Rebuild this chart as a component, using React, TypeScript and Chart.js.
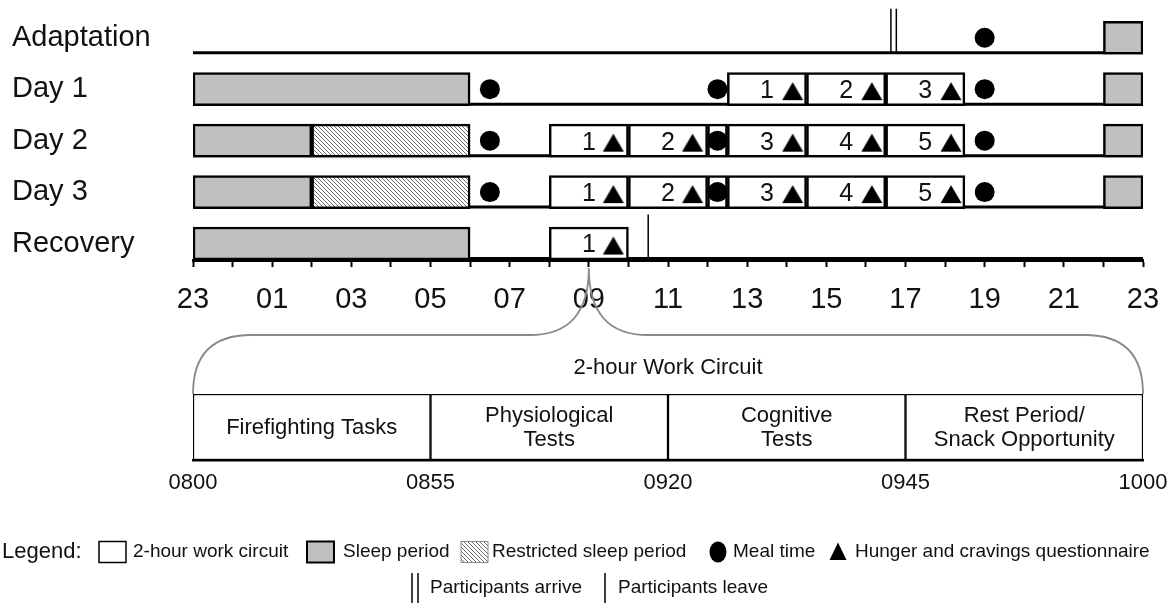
import React, { useEffect, useRef } from 'react';
import { Chart, registerables } from 'chart.js';

Chart.register(...registerables);

const FONT = '"Liberation Sans", Arial, Helvetica, sans-serif';
const INK = '#111111';
const SLEEP_GRAY = '#c0c0c0';

// ---------- schedule data ----------
const rowLabels = ['Adaptation', 'Day 1', 'Day 2', 'Day 3', 'Recovery'];

const axisStartHour = 23;
const xTickLabels = ['23', '01', '03', '05', '07', '09', '11', '13', '15', '17', '19', '21', '23'];

// [row, start clock hour, end clock hour]
const sleepPeriods: number[][] = [
  [0, 22, 23],
  [1, 23, 6], [1, 22, 23],
  [2, 23, 2], [2, 22, 23],
  [3, 23, 2], [3, 22, 23],
  [4, 23, 6],
];
const restrictedSleep: number[][] = [[2, 2, 6], [3, 2, 6]];
// [row, start, end, circuit number]
const workCircuits: number[][] = [
  [1, 12.5, 14.5, 1], [1, 14.5, 16.5, 2], [1, 16.5, 18.5, 3],
  [2, 8, 10, 1], [2, 10, 12, 2], [2, 12.5, 14.5, 3], [2, 14.5, 16.5, 4], [2, 16.5, 18.5, 5],
  [3, 8, 10, 1], [3, 10, 12, 2], [3, 12.5, 14.5, 3], [3, 14.5, 16.5, 4], [3, 16.5, 18.5, 5],
  [4, 8, 10, 1],
];
const lunchBreaks: number[][] = [[2, 12, 12.5], [3, 12, 12.5]];
// [row, clock hour]
const mealTimes: number[][] = [
  [0, 19],
  [1, 6.5], [1, 12.25], [1, 19],
  [2, 6.5], [2, 12.25], [2, 19],
  [3, 6.5], [3, 12.25], [3, 19],
];
const questionnaireTimes: number[][] = [
  [1, 14.15], [1, 16.15], [1, 18.15],
  [2, 9.62], [2, 11.62], [2, 14.15], [2, 16.15], [2, 18.15],
  [3, 9.62], [3, 11.62], [3, 14.15], [3, 16.15], [3, 18.15],
  [4, 9.62],
];
const arrivals: number[][] = [[0, 16.7]];
const departures: number[][] = [[4, 10.5]];

// ---------- 2-hour work circuit detail ----------
const circuitSegments = ['Firefighting Tasks', 'Physiological\nTests', 'Cognitive\nTests', 'Rest Period/\nSnack Opportunity'];
const circuitShares = [1, 1, 1, 1];
const circuitTimes = ['0800', '0855', '0920', '0945', '1000'];
const circuitTitle = '2-hour Work Circuit';
const circuitZoomHour = 9;

const legendTitle = 'Legend:';
const legendItems = [
  '2-hour work circuit', 'Sleep period', 'Restricted sleep period', 'Meal time',
  'Hunger and cravings questionnaire', 'Participants arrive', 'Participants leave',
];

// ---------- helpers ----------
const toAxis = (h: number) => (h >= axisStartHour ? h : h + 24);
const span = (s: number, e: number): [number, number] => {
  const a = toAxis(s);
  let b = toAxis(e);
  if (b <= a) b += 24;
  return [a, b];
};

const BAR_THICKNESS = 33;
const CANVAS2_TOP = 250;

function makeHatch(): CanvasPattern | string {
  const c = document.createElement('canvas');
  c.width = 4;
  c.height = 4;
  const g = c.getContext('2d');
  if (!g) return '#ddd';
  g.fillStyle = '#ffffff';
  g.fillRect(0, 0, 4, 4);
  g.strokeStyle = '#707070';
  g.lineWidth = 1;
  g.beginPath();
  for (const k of [-4, 0, 4]) {
    g.moveTo(k, 0);
    g.lineTo(k + 4, 4);
  }
  g.stroke();
  return g.createPattern(c, 'repeat') || '#ddd';
}

function makeTriangle(): HTMLCanvasElement {
  const c = document.createElement('canvas');
  c.width = 24;
  c.height = 30;
  const g = c.getContext('2d');
  if (g) {
    g.fillStyle = '#000';
    g.beginPath();
    g.moveTo(12, 8);
    g.lineTo(22.5, 26);
    g.lineTo(1.5, 26);
    g.closePath();
    g.fill();
  }
  return c;
}

export default function App() {
  const topRef = useRef<HTMLCanvasElement | null>(null);
  const bottomRef = useRef<HTMLCanvasElement | null>(null);

  useEffect(() => {
    if (!topRef.current || !bottomRef.current) return;
    const hatch = makeHatch();
    const tri = makeTriangle();
    const WORK_INDEX = 2;

    const barBase = {
      type: 'bar' as const,
      grouped: false,
      barThickness: BAR_THICKNESS,
      borderColor: '#000',
      borderWidth: 2.5,
      borderSkipped: false as const,
    };

    const scheduleDecor = {
      id: 'scheduleDecor',
      beforeDatasetsDraw(chart: any) {
        const { ctx, chartArea, scales } = chart;
        const y = scales.y;
        ctx.save();
        ctx.strokeStyle = '#000';
        ctx.lineWidth = 3;
        rowLabels.forEach((_, i) => {
          const yy = y.getPixelForValue(i) + BAR_THICKNESS / 2 - 1.5;
          ctx.beginPath();
          ctx.moveTo(chartArea.left, yy);
          ctx.lineTo(chartArea.right, yy);
          ctx.stroke();
        });
        ctx.restore();
      },
      afterDatasetsDraw(chart: any) {
        const { ctx, scales } = chart;
        const { x, y } = scales;
        ctx.save();
        const meta = chart.getDatasetMeta(WORK_INDEX);
        ctx.fillStyle = INK;
        ctx.font = `25px ${FONT}`;
        ctx.textAlign = 'center';
        ctx.textBaseline = 'middle';
        meta.data.forEach((el: any, i: number) => {
          const p = el.getProps(['x', 'base', 'y'], true);
          ctx.fillText(String(workCircuits[i][3]), (p.x + p.base) / 2, p.y + 2);
        });
        ctx.strokeStyle = '#000';
        ctx.lineWidth = 1.5;
        const top = (r: number) => y.getPixelForValue(r) - 29;
        const bottom = (r: number) => y.getPixelForValue(r) + BAR_THICKNESS / 2 - 1.5;
        arrivals.forEach(([r, h]) => {
          const px = x.getPixelForValue(toAxis(h));
          [-2.7, 2.7].forEach((d) => {
            ctx.beginPath();
            ctx.moveTo(px + d, top(r));
            ctx.lineTo(px + d, bottom(r));
            ctx.stroke();
          });
        });
        departures.forEach(([r, h]) => {
          const px = x.getPixelForValue(toAxis(h));
          ctx.beginPath();
          ctx.moveTo(px, top(r));
          ctx.lineTo(px, bottom(r));
          ctx.stroke();
        });
        ctx.restore();
      },
    };

    const topChart = new Chart(topRef.current, {
      type: 'bar',
      data: {
        datasets: [
          {
            type: 'scatter',
            label: 'Meal time',
            data: mealTimes.map(([r, h]) => ({ x: toAxis(h), y: r })),
            pointStyle: 'circle',
            pointRadius: 10,
            backgroundColor: '#000',
            pointBackgroundColor: '#000',
            borderWidth: 0,
            pointBorderWidth: 0,
          } as any,
          {
            type: 'scatter',
            label: 'Hunger and cravings questionnaire',
            data: questionnaireTimes.map(([r, h]) => ({ x: toAxis(h), y: r })),
            pointStyle: tri,
            pointRadius: 12,
            backgroundColor: '#000',
            borderWidth: 0,
          } as any,
          {
            ...barBase,
            label: '2-hour work circuit',
            data: workCircuits.map(([r, s, e]) => ({ y: r, x: span(s, e) })),
            backgroundColor: '#ffffff',
          } as any,
          {
            ...barBase,
            label: 'Lunch',
            data: lunchBreaks.map(([r, s, e]) => ({ y: r, x: span(s, e) })),
            backgroundColor: '#ffffff',
          } as any,
          {
            ...barBase,
            label: 'Restricted sleep period',
            data: restrictedSleep.map(([r, s, e]) => ({ y: r, x: span(s, e) })),
            backgroundColor: hatch,
          } as any,
          {
            ...barBase,
            label: 'Sleep period',
            data: sleepPeriods.map(([r, s, e]) => ({ y: r, x: span(s, e) })),
            backgroundColor: SLEEP_GRAY,
          } as any,
        ],
      },
      options: {
        responsive: false,
        animation: false,
        devicePixelRatio: 1,
        indexAxis: 'y',
        events: [],
        layout: { padding: { left: 12, right: 30, top: 11.2, bottom: 5 } },
        plugins: { legend: { display: false }, tooltip: { enabled: false } },
        scales: {
          x: {
            type: 'linear',
            position: 'bottom',
            min: axisStartHour,
            max: axisStartHour + 24,
            offset: false,
            ticks: {
              stepSize: 1,
              autoSkip: false,
              maxRotation: 0,
              padding: 12,
              color: INK,
              font: { family: FONT, size: 29, lineHeight: 1.42 },
              callback: (v: any) => {
                const k = Math.round(Number(v) - axisStartHour);
                return k % 2 === 0 ? xTickLabels[k / 2] : '';
              },
            },
            grid: {
              display: true,
              drawOnChartArea: false,
              drawTicks: true,
              tickLength: 7,
              tickColor: '#000',
              tickWidth: 2,
              offset: false,
            },
            border: { display: true, color: '#000', width: 3 },
            afterFit: (s: any) => {
              s.height = 55;
            },
          },
          y: {
            type: 'linear',
            position: 'left',
            reverse: true,
            min: -0.5,
            max: 4.32,
            offset: false,
            afterBuildTicks: (s: any) => {
              s.ticks = rowLabels.map((_, i) => ({ value: i }));
            },
            afterFit: (s: any) => {
              s.width = 181;
            },
            ticks: {
              crossAlign: 'far',
              padding: 0,
              color: INK,
              font: { family: FONT, size: 29, lineHeight: 0.7 },
              callback: (v: any) => rowLabels[Math.round(Number(v))] ?? '',
            },
            grid: { display: false },
            border: { display: false },
          },
        },
      } as any,
      plugins: [scheduleDecor],
    });

    const circuitDecor = {
      id: 'circuitDecor',
      afterDatasetsDraw(chart: any) {
        const { ctx } = chart;
        ctx.save();
        ctx.fillStyle = INK;
        ctx.font = `22px ${FONT}`;
        ctx.textAlign = 'center';
        ctx.textBaseline = 'middle';
        circuitSegments.forEach((label, i) => {
          const el = chart.getDatasetMeta(i).data[0];
          if (!el) return;
          const p = el.getProps(['x', 'base', 'y'], true);
          const cx = (p.x + p.base) / 2;
          const lines = label.split('\n');
          const lh = 24;
          lines.forEach((ln, j) => {
            ctx.fillText(ln, cx, p.y + 1 + (j - (lines.length - 1) / 2) * lh);
          });
        });
        ctx.restore();
      },
      afterDraw(chart: any) {
        const { ctx, chartArea: ca } = chart;
        ctx.save();
        // bracket linking the 09:00 circuit to the detail box
        const apexX = topChart.scales.x.getPixelForValue(toAxis(circuitZoomHour));
        const apexY = topChart.chartArea.bottom + 8 - CANVAS2_TOP;
        const hy = 335 - CANVAS2_TOP;
        ctx.strokeStyle = '#8a8a8a';
        ctx.lineWidth = 1.8;
        ctx.beginPath();
        ctx.moveTo(apexX, apexY);
        ctx.quadraticCurveTo(apexX, hy, apexX - 59, hy);
        ctx.lineTo(ca.left + 58, hy);
        ctx.quadraticCurveTo(ca.left, hy, ca.left, ca.top);
        ctx.moveTo(apexX, apexY);
        ctx.quadraticCurveTo(apexX, hy, apexX + 59, hy);
        ctx.lineTo(ca.right - 58, hy);
        ctx.quadraticCurveTo(ca.right, hy, ca.right, ca.top);
        ctx.stroke();

        // title
        ctx.fillStyle = INK;
        ctx.textAlign = 'center';
        ctx.textBaseline = 'middle';
        ctx.font = `22px ${FONT}`;
        ctx.fillText(circuitTitle, (ca.left + ca.right) / 2, 368 - CANVAS2_TOP);

        // legend
        const r1 = 552 - CANVAS2_TOP;
        const r2 = 588 - CANVAS2_TOP;
        ctx.textAlign = 'left';
        ctx.font = `22px ${FONT}`;
        ctx.fillText(legendTitle, 2, r1);
        ctx.font = `19px ${FONT}`;
        const box = (x: number, fill: any, stroke: string, lw: number) => {
          ctx.fillStyle = fill;
          ctx.fillRect(x, r1 - 10.5, 27, 21);
          ctx.strokeStyle = stroke;
          ctx.lineWidth = lw;
          ctx.strokeRect(x, r1 - 10.5, 27, 21);
        };
        box(99, '#ffffff', '#000', 1.5);
        box(307, SLEEP_GRAY, '#000', 2);
        box(461, hatch, '#8a8a8a', 1);
        ctx.fillStyle = '#000';
        ctx.beginPath();
        ctx.ellipse(718, r1, 8.5, 10.5, 0, 0, Math.PI * 2);
        ctx.fill();
        ctx.beginPath();
        ctx.moveTo(838, r1 - 9.5);
        ctx.lineTo(846.5, r1 + 8);
        ctx.lineTo(829.5, r1 + 8);
        ctx.closePath();
        ctx.fill();
        ctx.fillStyle = INK;
        ctx.fillText(legendItems[0], 133, r1);
        ctx.fillText(legendItems[1], 343, r1);
        ctx.fillText(legendItems[2], 492, r1);
        ctx.fillText(legendItems[3], 733, r1);
        ctx.fillText(legendItems[4], 855, r1);
        ctx.strokeStyle = '#000';
        ctx.lineWidth = 1.5;
        [412, 418, 605].forEach((lx) => {
          ctx.beginPath();
          ctx.moveTo(lx, r2 - 15);
          ctx.lineTo(lx, r2 + 15);
          ctx.stroke();
        });
        ctx.fillText(legendItems[5], 430, r2);
        ctx.fillText(legendItems[6], 618, r2);
        ctx.restore();
      },
    };

    const bottomChart = new Chart(bottomRef.current, {
      type: 'bar',
      data: {
        labels: ['circuit'],
        datasets: circuitSegments.map((s, i) => ({
          label: s,
          data: [circuitShares[i]],
          backgroundColor: '#ffffff',
          borderColor: '#000',
          borderWidth: 1.5,
          borderSkipped: false,
          barPercentage: 1,
          categoryPercentage: 1,
        })) as any,
      },
      options: {
        responsive: false,
        animation: false,
        devicePixelRatio: 1,
        indexAxis: 'y',
        events: [],
        layout: { padding: { left: 193, right: 30, top: 144, bottom: 103 } },
        plugins: { legend: { display: false }, tooltip: { enabled: false } },
        scales: {
          x: {
            type: 'linear',
            stacked: true,
            min: 0,
            max: circuitShares.reduce((a, b) => a + b, 0),
            offset: false,
            ticks: {
              stepSize: 1,
              autoSkip: false,
              maxRotation: 0,
              padding: 4,
              color: INK,
              font: { family: FONT, size: 22, lineHeight: 1.75 },
              callback: (v: any) => circuitTimes[Math.round(Number(v))] ?? '',
            },
            grid: { display: false, drawTicks: false },
            border: { display: true, color: '#000', width: 2.5 },
            afterFit: (s: any) => {
              s.height = 40;
            },
          },
          y: { type: 'category', stacked: true, display: false },
        },
      } as any,
      plugins: [circuitDecor],
    });

    return () => {
      topChart.destroy();
      bottomChart.destroy();
    };
  }, []);

  return (
    <div style={{ position: 'fixed', left: 0, top: 0, width: 1173, height: 603, background: '#ffffff' }}>
      <canvas
        ref={topRef}
        width={1173}
        height={320}
        style={{ position: 'absolute', left: 0, top: 0, width: 1173, height: 320 }}
      />
      <canvas
        ref={bottomRef}
        width={1173}
        height={353}
        style={{ position: 'absolute', left: 0, top: CANVAS2_TOP, width: 1173, height: 353 }}
      />
    </div>
  );
}
